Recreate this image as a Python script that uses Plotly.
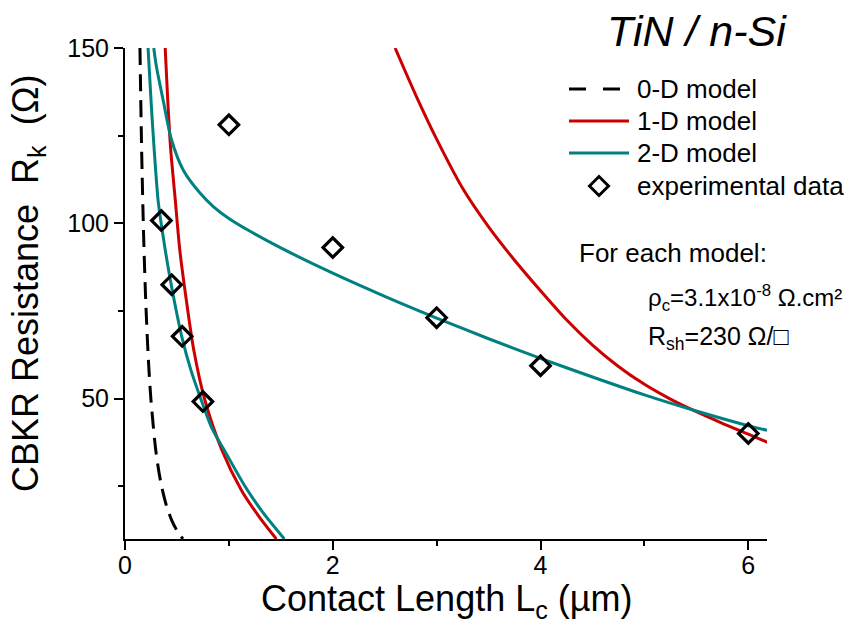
import plotly.graph_objects as go

# ---- measured CBKR resistance vs. contact length ----
exp_L = [0.35, 0.45, 0.55, 0.75, 1.0, 2.0, 3.0, 4.0, 6.0]
exp_R = [100.8, 82.5, 67.8, 49.2, 128.1, 93.1, 73.1, 59.4, 40.1]

# ---- 0-D model ----
m0_L = [0.144, 0.16, 0.18, 0.20, 0.225, 0.25, 0.30, 0.35, 0.40, 0.45, 0.50, 0.557]
m0_R = [150.0, 121.1, 95.7, 77.5, 61.2, 49.6, 34.4, 25.3, 19.4, 15.3, 12.4, 10.0]

# ---- 1-D model (two branches) ----
m1a_L = [0.387, 0.411, 0.440, 0.484, 0.527, 0.590, 0.662, 0.768, 0.932, 1.119, 1.278, 1.457]
m1a_R = [150.0, 135.3, 121.0, 106.7, 92.5, 78.2, 63.9, 49.7, 35.4, 24.0, 16.9, 10.0]
m1b_L = [2.6, 2.8, 3.0, 3.25, 3.5, 3.75, 4.0, 4.25, 4.5, 4.75, 5.0, 5.25, 5.5, 5.75, 6.0, 6.2]
m1b_R = [150.0, 136.5, 124.0, 110.0, 99.0, 89.5, 80.8, 72.5, 65.3, 59.2, 54.1, 49.9, 46.3, 43.0, 39.9, 37.4]

# ---- 2-D model (two branches) ----
m2a_L = [0.222, 0.250, 0.281, 0.318, 0.344, 0.387, 0.445, 0.546, 0.633, 0.739, 0.835, 0.970, 1.158, 1.329, 1.534]
m2a_R = [150.0, 135.3, 121.0, 106.7, 100.8, 92.5, 82.5, 67.8, 58.3, 49.2, 41.7, 34.6, 24.9, 17.5, 10.0]
m2b_L = [0.277, 0.302, 0.366, 0.447, 0.559, 0.72, 0.85, 1.0, 1.2, 1.5, 2.0, 2.5, 3.0, 3.5, 4.0, 4.5, 5.0, 5.5, 6.0, 6.18]
m2b_R = [150.0, 144.8, 135.3, 123.9, 115.3, 108.7, 104.8, 101.4, 97.8, 93.0, 85.8, 79.2, 73.0, 67.1, 61.5, 56.2, 51.1, 46.5, 42.3, 41.0]

x_ticks = [0, 2, 4, 6]
y_ticks = [50, 100, 150]

RED = "#CC0000"
TEAL = "#008080"
FONT = "Liberation Sans, Arial, Helvetica, sans-serif"

W, H = 857, 628
ML, MR, MT, MB = 125, 90, 48, 89
PW, PH = W - ML - MR, H - MT - MB


def px(x):
    return (x - ML) / PW


def py(y):
    return (H - MB - y) / PH


fig = go.Figure()

fig.add_trace(go.Scatter(
    x=m0_L, y=m0_R, mode="lines", name="0-D model", showlegend=False,
    line=dict(color="black", width=3, dash="17px,9px", shape="spline", smoothing=0.8)))

fig.add_trace(go.Scatter(
    x=m1a_L + [None] + m1b_L, y=m1a_R + [None] + m1b_R, mode="lines",
    name="1-D model", showlegend=False, connectgaps=False,
    line=dict(color=RED, width=3, shape="spline", smoothing=0.8)))

fig.add_trace(go.Scatter(
    x=m2a_L + [None] + m2b_L, y=m2a_R + [None] + m2b_R, mode="lines",
    name="2-D model", showlegend=False, connectgaps=False,
    line=dict(color=TEAL, width=3, shape="spline", smoothing=0.8)))

fig.add_trace(go.Scatter(
    x=exp_L, y=exp_R, mode="markers", name="experimental data", showlegend=False,
    marker=dict(symbol="diamond-open", size=15, color="black", line=dict(width=3.2, color="black"))))

# ---- legend block ----
shapes = []
ann = []
leg_x0, leg_x1, txt_x = 569, 629, 635
rows = [("0-D model", 89), ("1-D model", 121), ("2-D model", 153), ("experimental data", 186)]
shapes.append(dict(type="line", xref="paper", yref="paper", x0=px(leg_x0), x1=px(leg_x1),
                   y0=py(89), y1=py(89), line=dict(color="black", width=3, dash="17px,17px")))
shapes.append(dict(type="line", xref="paper", yref="paper", x0=px(leg_x0), x1=px(leg_x1),
                   y0=py(121), y1=py(121), line=dict(color=RED, width=3)))
shapes.append(dict(type="line", xref="paper", yref="paper", x0=px(leg_x0), x1=px(leg_x1),
                   y0=py(153), y1=py(153), line=dict(color=TEAL, width=3)))
cx, cy, r = 599, 186, 9.5
shapes.append(dict(type="path", xref="paper", yref="paper",
                   path=f"M{px(cx - r)},{py(cy)} L{px(cx)},{py(cy - r)} L{px(cx + r)},{py(cy)} L{px(cx)},{py(cy + r)} Z",
                   line=dict(color="black", width=3)))
for label, yy in rows:
    ann.append(dict(text=label, xref="paper", yref="paper", x=px(txt_x), y=py(yy),
                    xanchor="left", yanchor="middle", showarrow=False,
                    font=dict(family=FONT, size=26, color="black")))

# ---- title and model parameters ----
ann.append(dict(text="<i>TiN / n-Si</i>", xref="paper", yref="paper", x=px(697), y=py(31),
                xanchor="center", yanchor="middle", showarrow=False,
                font=dict(family=FONT, size=43, color="black")))
ann.append(dict(text="For each model:", xref="paper", yref="paper", x=px(577), y=py(253),
                xanchor="left", yanchor="middle", showarrow=False,
                font=dict(family=FONT, size=26, color="black")))
ann.append(dict(text="ρ<sub>c</sub>=3.1x10<sup>-8</sup> Ω.cm²", xref="paper", yref="paper",
                x=px(646), y=py(298), xanchor="left", yanchor="middle", showarrow=False,
                font=dict(family=FONT, size=24, color="black")))
ann.append(dict(text="R<sub>sh</sub>=230 Ω/□", xref="paper", yref="paper",
                x=px(646), y=py(338), xanchor="left", yanchor="middle", showarrow=False,
                font=dict(family=FONT, size=25, color="black")))

# ---- axis titles ----
ann.append(dict(text="Contact Length L<sub>c</sub> (µm)", xref="paper", yref="paper",
                x=px(447), y=py(601), xanchor="center", yanchor="middle", showarrow=False,
                font=dict(family=FONT, size=36, color="black")))
ann.append(dict(text="CBKR Resistance&nbsp; R<sub>k</sub>&nbsp; (Ω)", xref="paper", yref="paper",
                x=px(28), y=py(283), xanchor="center", yanchor="middle", showarrow=False,
                textangle=-90, font=dict(family=FONT, size=36, color="black")))

fig.update_layout(
    width=W, height=H,
    margin=dict(l=ML, r=MR, t=MT, b=MB),
    paper_bgcolor="white", plot_bgcolor="white",
    showlegend=False,
    shapes=shapes, annotations=ann,
    xaxis=dict(range=[0, 6.18], tickvals=x_ticks, ticktext=[str(v) for v in x_ticks],
               showgrid=False, zeroline=False, showline=True, linecolor="black", linewidth=2,
               ticks="outside", ticklen=9, tickwidth=2, tickcolor="black", ticklabelstandoff=-6,
               tickfont=dict(family=FONT, size=25, color="black"),
               minor=dict(tickvals=[1, 3, 5], ticks="outside", ticklen=5, tickwidth=2, tickcolor="black")),
    yaxis=dict(range=[10, 150], tickvals=y_ticks, ticktext=[str(v) for v in y_ticks],
               showgrid=False, zeroline=False, showline=True, linecolor="black", linewidth=2,
               ticks="outside", ticklen=9, tickwidth=2, tickcolor="black",
               tickfont=dict(family=FONT, size=25, color="black"),
               minor=dict(tickvals=[25, 75, 125], ticks="outside", ticklen=5, tickwidth=2, tickcolor="black")),
)

fig.write_html("out.html")
